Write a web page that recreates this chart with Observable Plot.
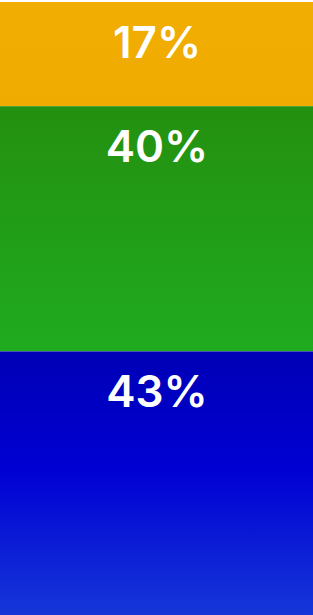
<!DOCTYPE html>
<html>
<head>
<meta charset="utf-8">
<script src="https://cdn.jsdelivr.net/npm/d3@7"></script>
<script src="https://cdn.jsdelivr.net/npm/@observablehq/plot@0.6"></script>
<style>
  html, body { margin: 0; padding: 0; background: #fff; }
  #chart svg { display: block; }
</style>
</head>
<body>
<div id="chart"></div>
<script>
const categories = ["Segment A", "Segment B", "Segment C"];
const values = [17, 40, 43];
const labels = ["17%", "40%", "43%"];
const gradientIds = ["gradYellow", "gradGreen", "gradBlue"];
const gradientStops = [
  [["0%", "#F1AD02"], ["100%", "#EFAB00"]],
  [["0%", "#249010"], ["100%", "#1FAB20"]],
  [["0%", "#0000B6"], ["45%", "#0000D4"], ["100%", "#1637D8"]]
];

const data = categories.map((c, i) => ({
  category: c, value: values[i], label: labels[i], fill: `url(#${gradientIds[i]})`
}));

const defs = () => {
  const g = d3.create("svg:defs");
  gradientIds.forEach((id, i) => {
    const lg = g.append("linearGradient").attr("id", id)
      .attr("x1", 0).attr("y1", 0).attr("x2", 0).attr("y2", 1);
    gradientStops[i].forEach(([o, c]) => lg.append("stop").attr("offset", o).attr("stop-color", c));
  });
  return g.node();
};

const chart = Plot.plot({
  width: 313,
  height: 615,
  marginTop: 2,
  marginBottom: 0,
  marginLeft: 0,
  marginRight: 0,
  x: { axis: null, padding: 0 },
  y: { axis: null, domain: [0, 100], reverse: true },
  style: { fontFamily: "Inter, sans-serif" },
  marks: [
    defs,
    Plot.barY(data, Plot.stackY({
      x: () => "all",
      y: "value",
      fill: "fill",
      insetTop: 0, insetBottom: 0
    })),
    Plot.text(data, Plot.stackY1({
      x: () => "all",
      y: "value",
      text: "label",
      fill: "white",
      fontSize: 44,
      fontWeight: 600,
      lineAnchor: "top",
      dy: 24
    }))
  ]
});
document.getElementById("chart").appendChild(chart);
</script>
</body>
</html>
